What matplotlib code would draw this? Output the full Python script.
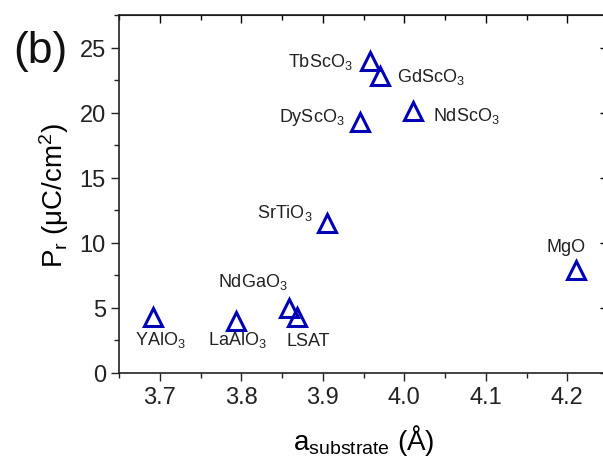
import matplotlib.pyplot as plt
from matplotlib.ticker import MultipleLocator

plt.rcParams['font.family'] = ['Liberation Sans', 'DejaVu Sans']
plt.rcParams['mathtext.fontset'] = 'custom'
plt.rcParams['mathtext.rm'] = 'Liberation Sans'
plt.rcParams['mathtext.it'] = 'Liberation Sans:italic'

# substrate lattice parameter (A) and remanent polarization (uC/cm2)
substrates = ['YAlO$_3$', 'LaAlO$_3$', 'NdGaO$_3$', 'LSAT', 'SrTiO$_3$',
              'DyScO$_3$', 'TbScO$_3$', 'GdScO$_3$', 'NdScO$_3$', 'MgO']
a_sub = [3.691, 3.794, 3.859, 3.868, 3.905, 3.945, 3.958, 3.970, 4.010, 4.210]
p_r = [4.3, 4.0, 5.0, 4.3, 11.5, 19.3, 24.0, 22.8, 20.1, 7.9]

# label anchor positions and alignment
label_x = [3.700, 3.795, 3.814, 3.882, 3.887, 3.927, 3.936, 3.991, 4.035, 4.198]
label_y = [2.6, 2.6, 7.1, 2.5, 12.4, 19.7, 24.0, 22.8, 19.8, 9.7]
label_ha = ['center', 'center', 'center', 'center', 'right',
            'right', 'right', 'left', 'left', 'center']

fig = plt.figure(figsize=(6.03, 4.64), dpi=100)
ax = fig.add_axes([0.1975, 0.194, 0.811, 0.7716])

ax.plot(a_sub, p_r, linestyle='none', marker='^', markersize=13,
        markerfacecolor='none', markeredgecolor='#0000b4', markeredgewidth=2.2)

for name, x, y, ha in zip(substrates, label_x, label_y, label_ha):
    ax.text(x, y, name, ha=ha, va='center', fontsize=13, color='#222222')

ax.set_xlim(3.65, 4.25)
ax.set_ylim(0, 27.5)
ax.xaxis.set_major_locator(MultipleLocator(0.1))
ax.xaxis.set_minor_locator(MultipleLocator(0.05))
ax.yaxis.set_major_locator(MultipleLocator(5))
ax.yaxis.set_minor_locator(MultipleLocator(2.5))

ax.tick_params(which='both', direction='out', top=False, right=False,
               labelsize=17, colors='#222222', width=1.0)
ax.tick_params(which='major', length=6)
ax.tick_params(which='minor', length=3.5)

# mirrored ticks on top and right, pointing inwards
sec_x = ax.secondary_xaxis('top')
sec_x.xaxis.set_major_locator(MultipleLocator(0.1))
sec_x.xaxis.set_minor_locator(MultipleLocator(0.05))
sec_x.tick_params(which='both', direction='in', labeltop=False, width=1.0)
sec_x.tick_params(which='major', length=6)
sec_x.tick_params(which='minor', length=3.5)
sec_y = ax.secondary_yaxis('right')
sec_y.yaxis.set_major_locator(MultipleLocator(5))
sec_y.yaxis.set_minor_locator(MultipleLocator(2.5))
sec_y.tick_params(which='both', direction='in', labelright=False, width=1.0)
sec_y.tick_params(which='major', length=6)
sec_y.tick_params(which='minor', length=3.5)
sec_y.spines['right'].set_visible(False)

for sp in ax.spines.values():
    sp.set_linewidth(1.2)
    sp.set_color('#222222')
ax.spines['right'].set_visible(False)

ax.set_xlabel('a$_\\mathrm{substrate}$ (Å)', fontsize=20, labelpad=10)
ax.set_ylabel('P$_\\mathrm{r}$ (μC/cm$^2$)', fontsize=20, labelpad=6)

fig.text(0.022, 0.865, '(b)', fontsize=32, color='#111111')

fig.savefig('out.png', dpi=100)
